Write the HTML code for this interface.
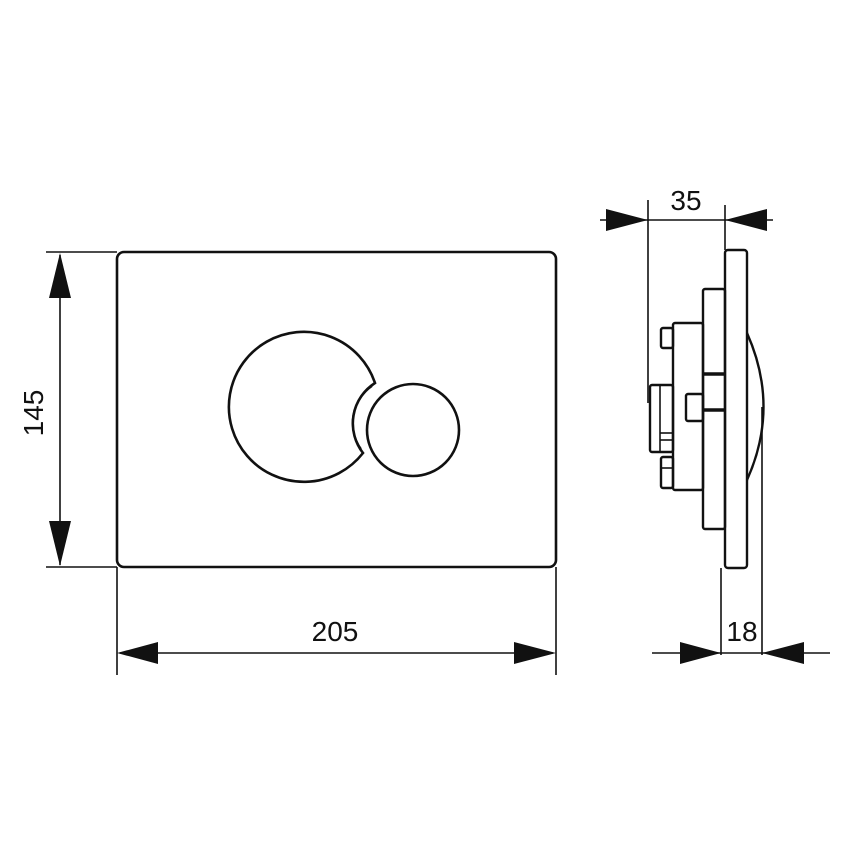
<!DOCTYPE html>
<html><head><meta charset="utf-8"><style>html,body{margin:0;padding:0;background:#fff}svg{display:block}</style></head>
<body>
<svg width="850" height="850" viewBox="0 0 850 850" xmlns="http://www.w3.org/2000/svg" font-family="Liberation Sans, sans-serif">
<g fill="none" stroke="#111" stroke-width="2.6">
  <rect x="117" y="252" width="439" height="315" rx="7"/>
  <path d="M375 383 A75 75 0 1 0 363 453 A48 48 0 0 1 375 383 Z"/>
  <path d="M372 386 A45 45 0 0 0 361 449" stroke-width="2"/>
  <circle cx="413" cy="430" r="46"/>
</g>
<g stroke="#111" stroke-width="1.6" fill="none">
  <line x1="46" y1="252" x2="117" y2="252"/>
  <line x1="46" y1="567" x2="117" y2="567"/>
  <line x1="60" y1="255" x2="60" y2="565"/>
  <line x1="117" y1="567" x2="117" y2="675"/>
  <line x1="556" y1="567" x2="556" y2="675"/>
  <line x1="120" y1="653" x2="553" y2="653"/>
</g>
<g fill="#111">
  <polygon points="60,253 49,298 71,298"/>
  <polygon points="60,566 49,521 71,521"/>
  <polygon points="117,653 158,642 158,664"/>
  <polygon points="556,653 514,642 514,664"/>
</g>
<text x="335" y="641" font-size="28" text-anchor="middle" fill="#111">205</text>
<text transform="translate(43,413) rotate(-90)" font-size="28" text-anchor="middle" fill="#111">145</text>

<!-- side view -->
<g fill="none" stroke="#111" stroke-width="2.4">
  <rect x="725" y="250" width="22" height="318" rx="3"/>
  <path d="M747 333 Q780 407 747 480"/>
  <rect x="703" y="289" width="22" height="240" rx="2"/>
  <line x1="703" y1="374" x2="725" y2="374" stroke-width="3.5"/>
  <line x1="703" y1="410" x2="725" y2="410" stroke-width="3.5"/>
  <rect x="673" y="323" width="30" height="167" rx="2"/>
  <rect x="661" y="328" width="12" height="20" rx="2"/>
  <rect x="661" y="457" width="12" height="31" rx="2"/>
  <rect x="686" y="394" width="17" height="27" rx="2"/>
  <rect x="650" y="385" width="23" height="67" rx="2"/>
  <line x1="660" y1="385" x2="660" y2="452" stroke-width="1.6"/>
  <line x1="660" y1="433" x2="673" y2="433" stroke-width="1.6"/>
  <line x1="660" y1="440" x2="673" y2="440" stroke-width="1.6"/>
  <line x1="661" y1="468" x2="673" y2="468" stroke-width="1.6"/>
</g>
<g stroke="#111" stroke-width="1.6" fill="none">
  <line x1="648" y1="200" x2="648" y2="403"/>
  <line x1="725" y1="205" x2="725" y2="250"/>
  <line x1="600" y1="220" x2="773" y2="220"/>
  <line x1="721" y1="568" x2="721" y2="655"/>
  <line x1="762" y1="407" x2="762" y2="655"/>
  <line x1="652" y1="653" x2="830" y2="653"/>
</g>
<g fill="#111">
  <polygon points="648,220 606,209 606,231"/>
  <polygon points="725,220 767,209 767,231"/>
  <polygon points="721,653 680,642 680,664"/>
  <polygon points="762,653 804,642 804,664"/>
</g>
<text x="686" y="210" font-size="28" text-anchor="middle" fill="#111">35</text>
<text x="742" y="641" font-size="28" text-anchor="middle" fill="#111">18</text>
</svg>
</body></html>
